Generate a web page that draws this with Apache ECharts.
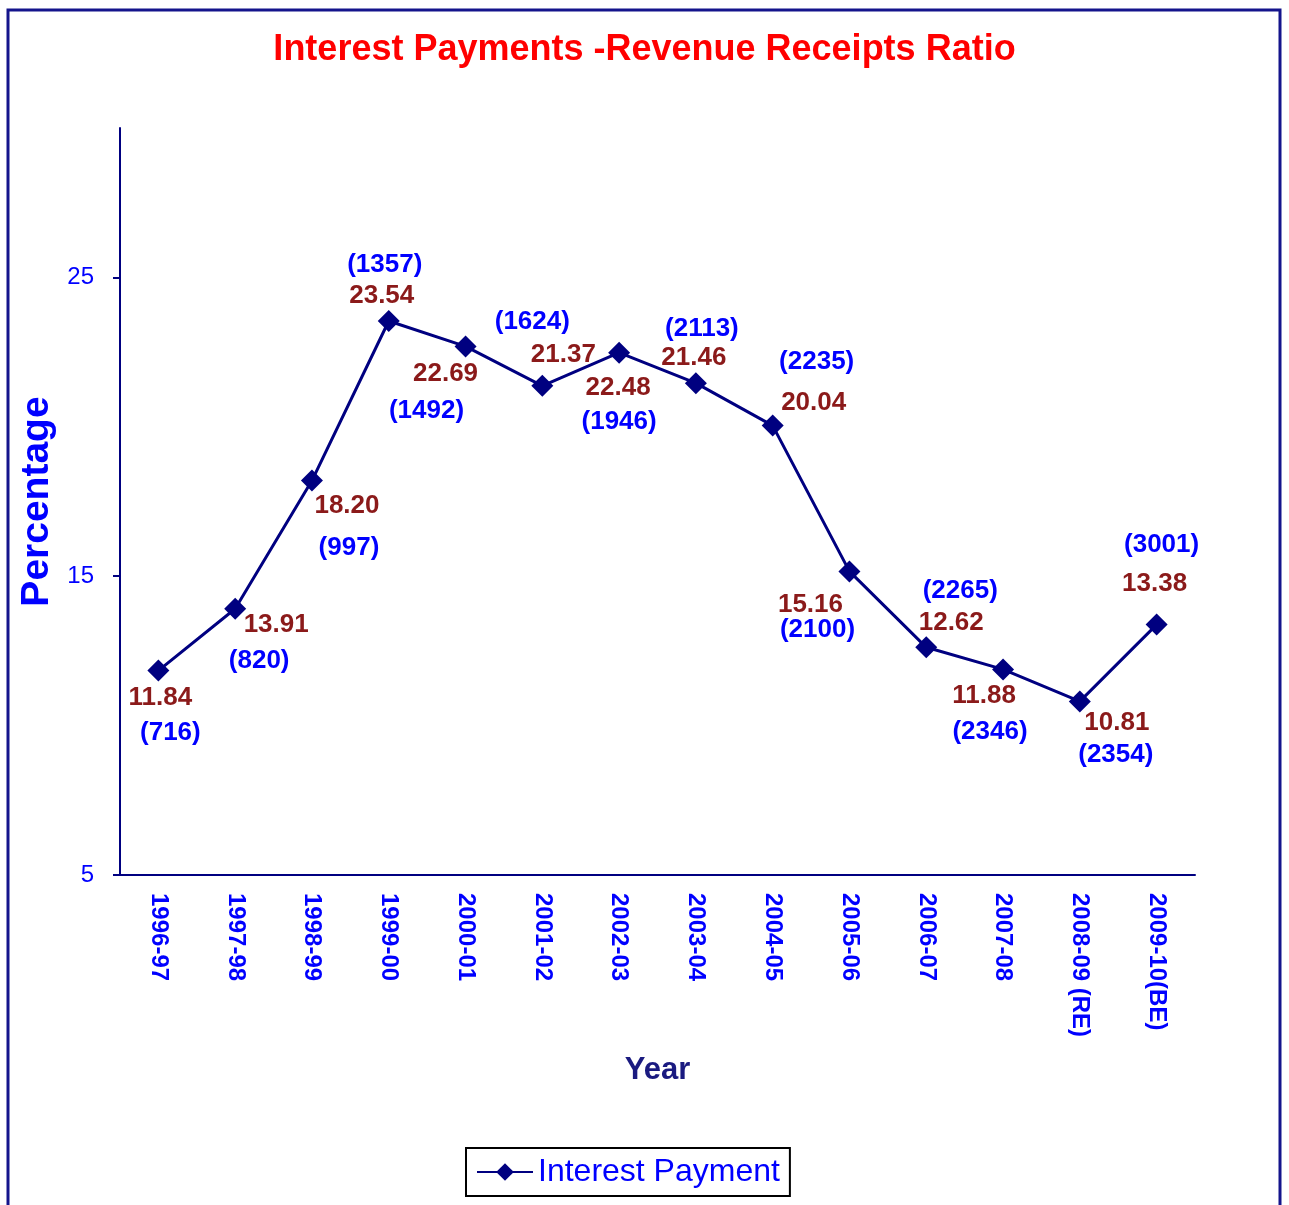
<!DOCTYPE html>
<html>
<head>
<meta charset="utf-8">
<script src="https://cdn.jsdelivr.net/npm/echarts@6/dist/echarts.min.js"></script>
<style>
  html, body { margin: 0; padding: 0; background: #fff; }
  #chart { width: 1289px; height: 1205px; }
</style>
</head>
<body>
<div id="chart"></div>
<script>
var years = ['1996-97', '1997-98', '1998-99', '1999-00', '2000-01', '2001-02', '2002-03',
    '2003-04', '2004-05', '2005-06', '2006-07', '2007-08', '2008-09 (RE)', '2009-10(BE)']
var ratio = [11.84, 13.91, 18.20, 23.54, 22.69, 21.37, 22.48, 21.46, 20.04, 15.16, 12.62, 11.88, 10.81, 13.38]
var payment = [716, 820, 997, 1357, 1492, 1624, 1946, 2113, 2235, 2100, 2265, 2346, 2354, 3001]
var yTicks = [5, 15, 25]

// label placement around each point (pixels)
var ratioOffset = [[2, 27], [41, 16], [35, 25], [-7, -25], [-20, 27], [21, -31], [-1, 35],
    [-2, -25], [41, -23], [-39, 33], [25, -24], [-19, 26], [37, 21], [-2, -41]]
var paymentOffset = [[12, 62], [24, 52], [37, 67], [-4, -56], [-39, 64], [-10, -64], [0, 69],
    [6, -54], [44, -64], [-32, 58], [34, -56], [-13, 62], [36, 53], [5, -80]]

var font = 'Liberation Sans, Arial, sans-serif'
var navy = '#000080'

function labelData(texts, offsets, color) {
    return ratio.map(function (v, i) {
        return {
            value: v,
            label: {
                show: true,
                position: 'inside',
                offset: offsets[i],
                formatter: texts[i],
                color: color,
                textBorderWidth: 0,
                fontFamily: font,
                fontWeight: 'bold',
                fontSize: 26
            }
        }
    })
}

var myChart = echarts.init(document.getElementById('chart'))
var option = {
    backgroundColor: '#fff',
    animation: false,
    graphic: [{
        type: 'rect',
        shape: { x: 8, y: 10, width: 1272, height: 1210 },
        style: { fill: 'none', stroke: '#14148c', lineWidth: 3 }
    }],
    title: {
        text: 'Interest Payments -Revenue Receipts Ratio',
        left: 'center',
        top: 27,
        textStyle: { color: '#ff0000', fontFamily: font, fontWeight: 'bold', fontSize: 36 }
    },
    legend: {
        left: 466,
        top: 1148,
        data: ['Interest Payment'],
        borderColor: '#000',
        borderWidth: 2,
        padding: [8, 10, 8, 10],
        itemWidth: 56,
        itemHeight: 22,
        textStyle: { color: '#0000ff', fontFamily: font, fontSize: 32 }
    },
    grid: { left: 120, right: 94, top: 128, bottom: 330, outerBoundsMode: 'none' },
    xAxis: {
        type: 'category',
        data: years,
        name: 'Year',
        nameLocation: 'middle',
        nameGap: 180,
        nameTextStyle: { color: '#1a1a80', fontFamily: font, fontWeight: 'bold', fontSize: 31 },
        axisLine: { lineStyle: { color: navy, width: 2 } },
        axisTick: { lineStyle: { color: navy, width: 2 }, length: 8 },
        axisLabel: {
            rotate: -90,
            margin: 18,
            color: '#0000ff',
            fontFamily: font,
            fontWeight: 'bold',
            fontSize: 24
        },
        splitLine: { show: false }
    },
    yAxis: {
        type: 'value',
        min: 5,
        max: 30,
        interval: 10,
        name: 'Percentage',
        nameLocation: 'middle',
        nameGap: 60,
        nameTextStyle: { color: '#0000ff', fontFamily: font, fontWeight: 'bold', fontSize: 39 },
        axisLine: { show: true, lineStyle: { color: navy, width: 2 } },
        axisTick: { show: true, length: 7, lineStyle: { color: navy, width: 2 }, customValues: yTicks },
        axisLabel: { color: '#0000ff', fontFamily: font, fontSize: 24, margin: 26, customValues: yTicks },
        splitLine: { show: false }
    },
    series: [
        {
            name: 'Interest Payment',
            type: 'line',
            data: ratio,
            symbol: 'diamond',
            symbolSize: 22,
            itemStyle: { color: navy },
            lineStyle: { color: navy, width: 3 },
            z: 3
        },
        {
            name: 'ratioLabels',
            type: 'scatter',
            data: labelData(ratio.map(function (v) { return v.toFixed(2) }), ratioOffset, '#8b1a1a'),
            symbolSize: 1,
            itemStyle: { color: 'transparent', opacity: 1 },
            silent: true,
            z: 4
        },
        {
            name: 'paymentLabels',
            type: 'scatter',
            data: labelData(payment.map(function (v) { return '(' + v + ')' }), paymentOffset, '#0000ff'),
            symbolSize: 1,
            itemStyle: { color: 'transparent', opacity: 1 },
            silent: true,
            z: 4
        }
    ]
}
myChart.setOption(option)
</script>
</body>
</html>
